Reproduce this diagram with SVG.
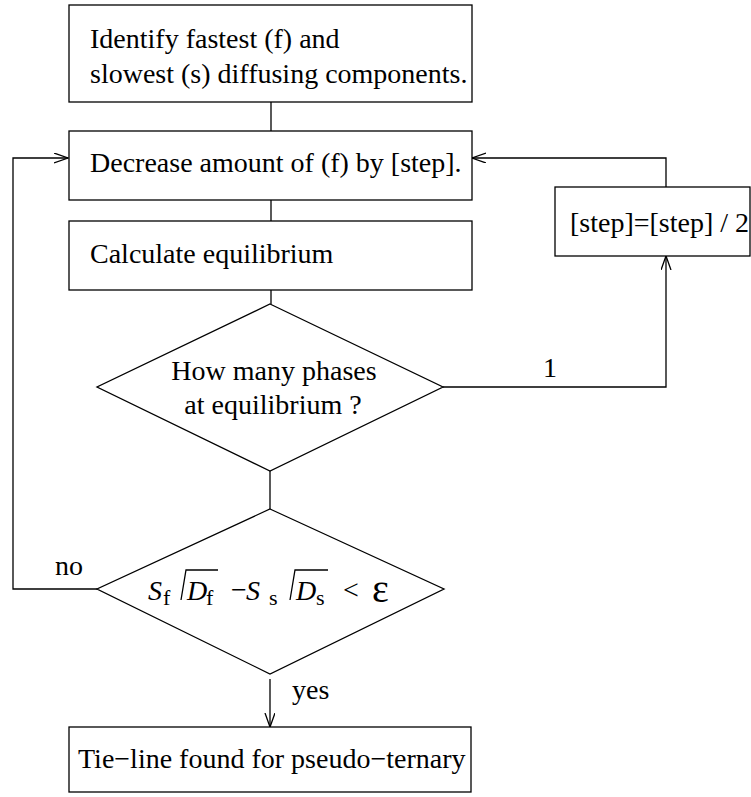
<svg xmlns="http://www.w3.org/2000/svg" width="751" height="797" viewBox="0 0 751 797">
<style>
.box{fill:#fff;stroke:#000;stroke-width:1.3}
text{font-family:'Liberation Serif','DejaVu Serif',serif;font-size:28px;fill:#000}
.i{font-style:italic}
.sub{font-size:22px}
.ln{fill:none;stroke:#000;stroke-width:1.3}
</style>
<defs>
<marker id="ah" markerUnits="userSpaceOnUse" markerWidth="16" markerHeight="12" refX="14" refY="5" orient="auto">
<path d="M0,0 L14,5 L0,10" fill="none" stroke="#000" stroke-width="1.3"/>
</marker>
</defs>
<rect width="751" height="797" fill="#fff"/>
<g id="connectors" font-family="Liberation Serif, serif">
<path class="ln" d="M271,102 V131"/>
<path class="ln" d="M271,200 V221"/>
<path class="ln" d="M271,290 V304"/>
<path class="ln" d="M270,471 V509"/>
<path class="ln" d="M97,589 H13 V158 H68" marker-end="url(#ah)"/>
<path class="ln" d="M443,387 H666 V256" marker-end="url(#ah)"/>
<path class="ln" d="M666,187 V158 H472" marker-end="url(#ah)"/>
<path class="ln" d="M270,679 V727" marker-end="url(#ah)"/>
<text x="543" y="377">1</text>
<text x="55" y="575">no</text>
<text x="292" y="699">yes</text>
</g>
<g id="identify">
<rect class="box" x="69" y="5" width="403" height="97"/>
<text x="90" y="48">Identify fastest (f) and</text>
<text x="90" y="83">slowest (s) diffusing components.</text>
</g>
<g id="decrease">
<rect class="box" x="69" y="131" width="403" height="69"/>
<text x="90" y="172">Decrease amount of (f) by [step].</text>
</g>
<g id="calculate">
<rect class="box" x="69" y="221" width="403" height="69"/>
<text x="90" y="263">Calculate equilibrium</text>
</g>
<g id="phases">
<polygon class="box" points="270,304 443,387 270,471 97,387"/>
<text x="274" y="380" text-anchor="middle">How many phases</text>
<text x="273" y="414" text-anchor="middle">at equilibrium ?</text>
</g>
<g id="halve">
<rect class="box" x="555" y="187" width="195" height="69"/>
<text x="570" y="232">[step]=[step] / 2</text>
</g>
<g id="criterion">
<polygon class="box" points="270,509 444,589 270,674 97,589"/>
<text class="i" x="148" y="600">S</text>
<text class="sub" x="163" y="605">f</text>
<path class="ln" d="M181,600 L186,570 H218" stroke-width="1.1"/>
<text class="i" x="187" y="600">D</text>
<text class="sub" x="206" y="605">f</text>
<text x="231" y="599">−</text>
<text class="i" x="246" y="600">S</text>
<text class="sub" x="269" y="605">s</text>
<path class="ln" d="M290,600 L295,570 H328" stroke-width="1.1"/>
<text class="i" x="296" y="600">D</text>
<text class="sub" x="316" y="605">s</text>
<text x="343" y="599">&lt;</text>
<text x="372" y="602" style="font-size:40px">ε</text>
</g>
<g id="tieline">
<rect class="box" x="69" y="727" width="402" height="65"/>
<text x="78" y="768">Tie−line found for pseudo−ternary</text>
</g>
</svg>
